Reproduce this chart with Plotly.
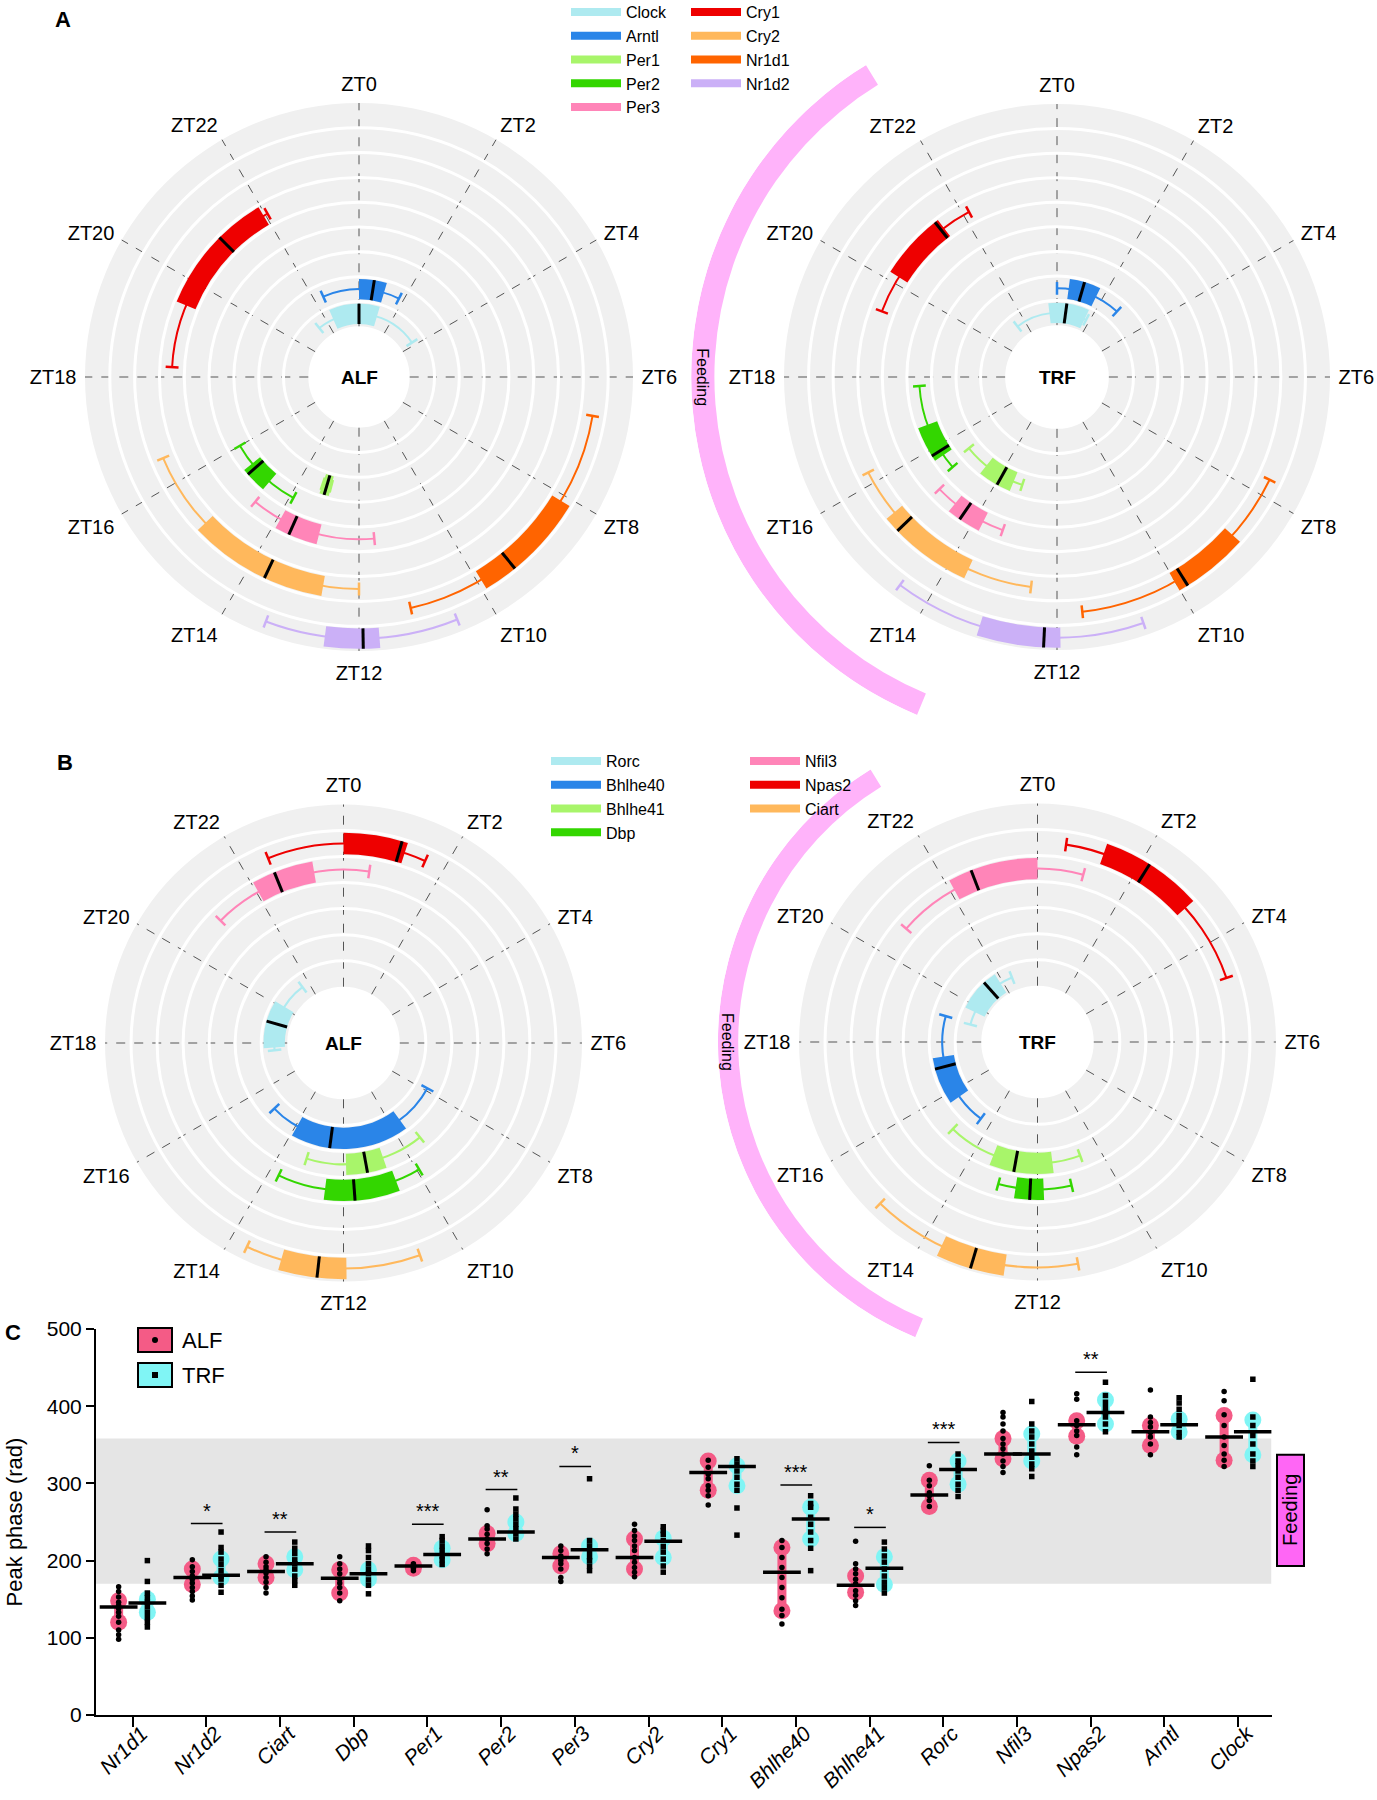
import numpy as np
import plotly.graph_objects as go

W, H = 1377, 1800
FONT = "Liberation Sans, Arial, sans-serif"

# ---------------- Panel A data (ZT hours) ----------------
A_GENES = ["Clock", "Arntl", "Per1", "Per2", "Per3", "Cry1", "Cry2", "Nr1d1", "Nr1d2"]
A_COLORS = ["#aeeaf0", "#2a85e8", "#a8f56a", "#33d600", "#ff85b8", "#ee0000", "#ffb85c", "#ff6400", "#cbb0f7"]
A_ALF_WLO = [21.4, 22.4, 12.95, 13.9, 11.64, 18.2, 12.0, 6.63, 10.53]
A_ALF_BLO = [22.4, 0.0, 12.95, 14.7, 12.95, 19.5, 12.65, 8.1, 11.7]
A_ALF_MED = [0.0, 0.6, 13.1, 15.25, 13.6, 21.0, 13.68, 9.39, 11.94]
A_ALF_BHI = [1.1, 1.1, 13.25, 15.4, 13.93, 21.96, 15.1, 9.93, 12.5]
A_ALF_WHI = [3.8, 1.8, 13.25, 16.0, 14.65, 22.05, 16.5, 11.16, 13.39]

A_TRF_WLO = [21.47, 0.0, 13.19, 15.28, 13.3, 19.37, 12.47, 7.72, 10.71]
A_TRF_BLO = [23.55, 0.5, 13.5, 15.7, 13.8, 20.15, 13.65, 8.8, 11.95]
A_TRF_MED = [0.51, 1.08, 13.94, 15.85, 14.29, 21.45, 15.07, 9.86, 12.19]
A_TRF_BHI = [1.7, 1.73, 14.57, 16.65, 14.59, 21.52, 15.35, 10.01, 13.15]
A_TRF_WHI = [1.8, 2.83, 15.4, 17.75, 15.09, 22.13, 16.21, 11.59, 14.47]

# ---------------- Panel B data (ZT hours) ----------------
B_GENES = ["Rorc", "Bhlhe40", "Bhlhe41", "Dbp", "Nfil3", "Npas2", "Ciart"]
B_COLORS = ["#aeeaf0", "#2a85e8", "#a8f56a", "#33d600", "#ff85b8", "#ee0000", "#ffb85c"]
B_ALF_WLO = [17.6, 7.89, 9.4, 9.94, 20.99, 22.52, 10.68]
B_ALF_BLO = [17.75, 9.59, 10.73, 10.61, 22.04, 0.0, 11.95]
B_ALF_MED = [19.06, 12.5, 11.3, 11.72, 22.53, 1.08, 12.43]
B_ALF_BHI = [20.1, 13.94, 11.92, 12.48, 23.35, 1.19, 13.07]
B_ALF_WHI = [21.58, 15.1, 13.18, 13.74, 0.57, 1.61, 13.69]

B_TRF_WLO = [18.97, 14.43, 10.63, 11.11, 20.72, 0.55, 11.31]
B_TRF_BLO = [19.7, 15.67, 11.53, 11.84, 22.09, 1.29, 12.55]
B_TRF_MED = [21.2, 17.01, 12.69, 12.19, 22.59, 2.15, 13.1]
B_TRF_BHI = [21.85, 17.41, 13.42, 12.57, 0.0, 3.19, 13.68]
B_TRF_WHI = [22.56, 19.05, 14.95, 13.03, 1.02, 4.75, 14.95]

FEED_ZT = [13.5, 21.9]
ZT_TICKS = list(range(0, 24, 2))
ZT_LABELS = ["ZT%d" % z for z in ZT_TICKS]

# ---------------- Panel C data ----------------
C_GENES = ["Nr1d1", "Nr1d2", "Ciart", "Dbp", "Per1", "Per2", "Per3", "Cry2", "Cry1",
           "Bhlhe40", "Bhlhe41", "Rorc", "Nfil3", "Npas2", "Arntl", "Clock"]
ALF_PTS = [
    [166, 160, 153, 146, 142, 138, 133, 128, 120, 110, 104, 98],
    [201, 192, 186, 180, 176, 171, 165, 160, 154, 149],
    [205, 198, 192, 188, 184, 178, 172, 165, 158],
    [205, 196, 189, 183, 176, 171, 165, 158, 148],
    [196, 194, 192, 190, 187],
    [266, 245, 241, 234, 228, 222, 215, 209],
    [219, 213, 206, 200, 196, 189, 178, 173],
    [247, 239, 232, 226, 219, 213, 204, 198, 191, 185, 179],
    [330, 321, 312, 306, 297, 291, 284, 272],
    [226, 217, 204, 191, 178, 165, 152, 137, 129, 118],
    [225, 196, 189, 183, 176, 170, 161, 155, 148, 142],
    [323, 304, 297, 288, 284, 278, 270],
    [392, 386, 377, 368, 358, 351, 345, 338, 329, 322, 314],
    [416, 409, 381, 375, 368, 362, 347, 337],
    [421, 386, 379, 373, 366, 360, 351, 337],
    [419, 407, 389, 375, 360, 349, 338, 330, 322],
]
TRF_PTS = [
    [200, 173, 158, 152, 146, 140, 133, 126, 120, 114],
    [237, 217, 211, 202, 195, 187, 180, 176, 168, 159],
    [224, 216, 209, 201, 196, 189, 180, 174, 168],
    [219, 213, 204, 196, 189, 183, 175, 168, 157],
    [231, 226, 219, 213, 206, 201, 195],
    [281, 267, 260, 254, 247, 241, 235, 228],
    [306, 226, 219, 212, 205, 200, 193, 187],
    [244, 239, 234, 226, 218, 211, 202, 193, 185],
    [332, 325, 316, 308, 299, 291, 268, 233],
    [284, 274, 269, 256, 247, 237, 226, 216, 187],
    [224, 215, 206, 198, 189, 180, 172, 165, 158],
    [338, 329, 323, 316, 308, 299, 291, 283],
    [406, 377, 368, 360, 351, 342, 334, 325, 319, 309],
    [431, 414, 405, 398, 392, 386, 377, 367],
    [411, 404, 396, 388, 381, 375, 366, 360],
    [435, 386, 375, 362, 351, 338, 329, 322],
]
ALF_LO = [120, 169, 178, 158, 190, 222, 193, 189, 291, 135, 159, 270, 332, 361, 349, 330]
ALF_HI = [148, 189, 196, 188, 194, 235, 209, 228, 329, 217, 180, 304, 358, 381, 375, 388]
ALF_MEAN = [140, 178, 186, 177, 193, 228, 204, 204, 314, 185, 168, 285, 338, 376, 367, 360]
TRF_LO = [133, 178, 188, 176, 201, 235, 205, 204, 297, 228, 169, 299, 329, 377, 367, 337]
TRF_HI = [150, 202, 205, 188, 216, 250, 219, 229, 323, 269, 205, 329, 364, 408, 383, 382]
TRF_MEAN = [145, 181, 196, 183, 208, 237, 214, 225, 322, 254, 190, 318, 338, 392, 376, 367]
SIG_GENES = ["Nr1d2", "Ciart", "Per1", "Per2", "Per3", "Bhlhe40", "Bhlhe41", "Rorc", "Npas2"]
SIG_LEVEL = [248, 237, 247, 292, 322, 298, 243, 353, 444]
SIG_STARS = ["*", "**", "***", "**", "*", "***", "*", "***", "**"]
FEED_BAND = [170, 358]
FEED_BOX = [193, 337]
Y_TICKS = [0, 100, 200, 300, 400, 500]

ALF_COLOR = "#f45b86"
TRF_COLOR = "#80f5f5"

fig = go.Figure()


def px_x(x):
    return x / W


def px_y(y):
    return 1 - y / H


def dom(cx, cy, R):
    return dict(x=[px_x(cx - R), px_x(cx + R)], y=[px_y(cy + R), px_y(cy - R)])


def unwrap(lo, hi):
    return (lo, hi if hi >= lo else hi + 24)


def add_polar(subplot, genes, colors, wlo, blo, med, bhi, whi, legends=None):
    # whisker arcs (thin annular bars)
    th, wd, base, rr = [], [], [], []
    for k in range(len(genes)):
        a, b = unwrap(wlo[k], whi[k])
        th.append(((a + b) / 2 % 24) * 15)
        wd.append((b - a) * 15)
        base.append(k + 0.46)
        rr.append(0.08)
    fig.add_trace(go.Barpolar(subplot=subplot, r=rr, base=base, theta=th, width=wd,
                              marker=dict(color=colors, line=dict(width=0)),
                              showlegend=False, hoverinfo="skip"))
    # boxes
    th, wd, base, rr = [], [], [], []
    for k in range(len(genes)):
        a, b = unwrap(blo[k], bhi[k])
        th.append(((a + b) / 2 % 24) * 15)
        wd.append(max((b - a) * 15, 0.8))
        base.append(k + 0.09)
        rr.append(0.82)
    fig.add_trace(go.Barpolar(subplot=subplot, r=rr, base=base, theta=th, width=wd,
                              marker=dict(color=colors, line=dict(width=0)),
                              showlegend=False, hoverinfo="skip"))
    # whisker caps
    for k in range(len(genes)):
        r0, r1 = k + 0.24, k + 0.76
        fig.add_trace(go.Scatterpolar(subplot=subplot,
                                      r=[r0, r1, None, r0, r1],
                                      theta=[wlo[k] * 15, wlo[k] * 15, None, whi[k] * 15, whi[k] * 15],
                                      mode="lines", line=dict(color=colors[k], width=2.5),
                                      showlegend=False, hoverinfo="skip", connectgaps=False))
    # medians
    rm, tm = [], []
    for k in range(len(genes)):
        rm += [k + 0.09, k + 0.91, None]
        tm += [med[k] * 15, med[k] * 15, None]
    fig.add_trace(go.Scatterpolar(subplot=subplot, r=rm, theta=tm, mode="lines",
                                  line=dict(color="black", width=3), showlegend=False,
                                  hoverinfo="skip", connectgaps=False))
    if legends:
        for k, g in enumerate(genes):
            fig.add_trace(go.Scatterpolar(subplot=subplot, r=[None], theta=[None], mode="lines",
                                          line=dict(color=colors[k], width=8), name=g,
                                          legend=legends[k], showlegend=True))


A_LEG = ["legend"] * 5 + ["legend2"] * 4
B_LEG = ["legend3"] * 4 + ["legend4"] * 3

add_polar("polar", A_GENES, A_COLORS, A_ALF_WLO, A_ALF_BLO, A_ALF_MED, A_ALF_BHI, A_ALF_WHI, A_LEG)
add_polar("polar2", A_GENES, A_COLORS, A_TRF_WLO, A_TRF_BLO, A_TRF_MED, A_TRF_BHI, A_TRF_WHI)
add_polar("polar3", B_GENES, B_COLORS, B_ALF_WLO, B_ALF_BLO, B_ALF_MED, B_ALF_BHI, B_ALF_WHI, B_LEG)
add_polar("polar4", B_GENES, B_COLORS, B_TRF_WLO, B_TRF_BLO, B_TRF_MED, B_TRF_BHI, B_TRF_WHI)

# feeding arcs
for sp in ["polar5", "polar6"]:
    a, b = FEED_ZT
    fig.add_trace(go.Barpolar(subplot=sp, r=[0.085], base=[1.255], theta=[(a + b) / 2 * 15],
                              width=[(b - a) * 15], marker=dict(color="#ffb3fa", line=dict(width=0)),
                              showlegend=False, hoverinfo="skip"))

# polar geometry (pixels)
PA1 = (359, 377, 274, 0.185, 9)
PA2 = (1057, 377, 273, 0.19, 9)
PB1 = (343.5, 1043, 238.5, 0.236, 7)
PB2 = (1037.5, 1042, 238.5, 0.236, 7)


def polar_layout(p):
    cx, cy, R, hole, n = p
    return dict(
        domain=dom(cx, cy, R), hole=hole, bgcolor="#f0f0f0",
        radialaxis=dict(range=[0, n], tickvals=list(range(1, n)), showticklabels=False, ticks="",
                        showline=False, gridcolor="white", gridwidth=3.2, layer="below traces"),
        angularaxis=dict(rotation=90, direction="clockwise", thetaunit="degrees", tickmode="array",
                         tickvals=[z * 15 for z in ZT_TICKS], ticktext=ZT_LABELS, showline=False,
                         gridcolor="#555555", griddash="dash", gridwidth=1.2, ticks="outside",
                         ticklen=4, tickcolor="rgba(0,0,0,0)",
                         tickfont=dict(size=20, color="black", family=FONT), layer="above traces"),
    )


def feed_layout(p):
    cx, cy, R, hole, n = p
    Ro = 1.34 * R
    return dict(
        domain=dict(x=[px_x(cx - Ro), px_x(cx)], y=[px_y(cy + Ro), px_y(cy - Ro)]),
        sector=[90, 270], hole=0, bgcolor="rgba(0,0,0,0)",
        radialaxis=dict(range=[0, 1.34], visible=False),
        angularaxis=dict(rotation=90, direction="clockwise", thetaunit="degrees", visible=False),
    )


def ann(x, y, text, size, xref="paper", yref="paper", **kw):
    d = dict(x=x, y=y, xref=xref, yref=yref, text=text, showarrow=False,
             xanchor=kw.pop("xanchor", "center"), yanchor=kw.pop("yanchor", "middle"),
             font=dict(size=size, color="black", family=FONT))
    d.update(kw)
    return d


annotations = []
for p, lab in [(PA1, "ALF"), (PA2, "TRF"), (PB1, "ALF"), (PB2, "TRF")]:
    annotations.append(ann(px_x(p[0]), px_y(p[1]), "<b>%s</b>" % lab, 19))
for p in [PA2, PB2]:
    annotations.append(ann(px_x(p[0] - 1.2975 * p[2]), px_y(p[1]), "Feeding", 16, textangle=90))
for lab, (x, y) in [("A", (63, 20)), ("B", (65, 762)), ("C", (13, 1332))]:
    annotations.append(ann(px_x(x), px_y(y), "<b>%s</b>" % lab, 22))

# ---------------- Panel C ----------------
OFF_A, OFF_T = -0.19, 0.2
for pts, lo, hi, mean, off, col, sym in [
    (ALF_PTS, ALF_LO, ALF_HI, ALF_MEAN, OFF_A, ALF_COLOR, "circle"),
    (TRF_PTS, TRF_LO, TRF_HI, TRF_MEAN, OFF_T, TRF_COLOR, "square"),
]:
    bx, by = [], []
    for i in range(len(C_GENES)):
        bx += [i + off, i + off, None]
        by += [lo[i], hi[i], None]
    fig.add_trace(go.Scatter(x=bx, y=by, mode="lines+markers", xaxis="x", yaxis="y",
                             line=dict(color=col, width=9), marker=dict(color=col, size=17),
                             showlegend=False, hoverinfo="skip", connectgaps=False))
    mx = [i + off for i in range(len(C_GENES))]
    fig.add_trace(go.Scatter(x=mx, y=mean, mode="markers", xaxis="x", yaxis="y",
                             marker=dict(symbol="line-ew", size=27, line=dict(color="black", width=3.5)),
                             showlegend=False, hoverinfo="skip"))
    px_, py_ = [], []
    for i in range(len(C_GENES)):
        px_ += [i + off] * len(pts[i])
        py_ += pts[i]
    fig.add_trace(go.Scatter(x=px_, y=py_, mode="markers", xaxis="x", yaxis="y",
                             marker=dict(symbol=sym, size=5.5, color="black"),
                             showlegend=False, hoverinfo="skip"))

sx, sy = [], []
for g, lv, st in zip(SIG_GENES, SIG_LEVEL, SIG_STARS):
    i = C_GENES.index(g)
    sx += [i + OFF_A - 0.02, i + OFF_T + 0.02, None]
    sy += [lv, lv, None]
    annotations.append(ann(i + (OFF_A + OFF_T) / 2, lv, st, 20, xref="x", yref="y", yanchor="bottom"))
fig.add_trace(go.Scatter(x=sx, y=sy, mode="lines", xaxis="x", yaxis="y", line=dict(color="black", width=1.5),
                         showlegend=False, hoverinfo="skip", connectgaps=False))

shapes = [
    dict(type="rect", xref="x", yref="y", x0=-0.497, x1=15.453, y0=FEED_BAND[0], y1=FEED_BAND[1],
         fillcolor="#e5e5e5", line=dict(width=0), layer="below"),
    dict(type="rect", xref="paper", yref="y", x0=px_x(1277), x1=px_x(1304), y0=FEED_BOX[0], y1=FEED_BOX[1],
         fillcolor="#ff66f5", line=dict(color="black", width=2)),
    # legend boxes for panel C
    dict(type="rect", xref="paper", yref="paper", x0=px_x(138), x1=px_x(172), y0=px_y(1352), y1=px_y(1328),
         fillcolor=ALF_COLOR, line=dict(color="black", width=2)),
    dict(type="circle", xref="paper", yref="paper", x0=px_x(152), x1=px_x(158), y0=px_y(1343), y1=px_y(1337),
         fillcolor="black", line=dict(width=0)),
    dict(type="rect", xref="paper", yref="paper", x0=px_x(138), x1=px_x(172), y0=px_y(1387), y1=px_y(1363),
         fillcolor=TRF_COLOR, line=dict(color="black", width=2)),
    dict(type="rect", xref="paper", yref="paper", x0=px_x(152), x1=px_x(158), y0=px_y(1378), y1=px_y(1372),
         fillcolor="black", line=dict(width=0)),
]
annotations.append(ann(px_x(1290.5), (FEED_BOX[0] + FEED_BOX[1]) / 2, "Feeding", 20, yref="y", textangle=-90))
annotations.append(ann(px_x(180), px_y(1340), "ALF", 22, xanchor="left"))
annotations.append(ann(px_x(180), px_y(1375), "TRF", 22, xanchor="left"))

leg_common = dict(bgcolor="rgba(0,0,0,0)", font=dict(size=16, color="black", family=FONT),
                  itemwidth=50, xanchor="left", yanchor="top", tracegroupgap=0, orientation="v")

fig.update_layout(
    width=W, height=H, margin=dict(l=0, r=0, t=0, b=0, autoexpand=False),
    paper_bgcolor="white", plot_bgcolor="rgba(0,0,0,0)",
    font=dict(family=FONT, color="black"),
    polar=polar_layout(PA1), polar2=polar_layout(PA2),
    polar3=polar_layout(PB1), polar4=polar_layout(PB2),
    polar5=feed_layout(PA2), polar6=feed_layout(PB2),
    legend=dict(x=px_x(566), y=px_y(-5), **leg_common),
    legend2=dict(x=px_x(686), y=px_y(-5), **leg_common),
    legend3=dict(x=px_x(546), y=px_y(744), **leg_common),
    legend4=dict(x=px_x(745), y=px_y(744), **leg_common),
    xaxis=dict(domain=[px_x(96), px_x(1271.5)], range=[-0.497, 15.453], tickmode="array",
               tickvals=list(range(len(C_GENES))), ticktext=C_GENES, tickangle=-45,
               tickfont=dict(size=21, style="italic", family=FONT, color="black"),
               ticklabelstandoff=-14, ticklabelshift=9,
               showline=True, linecolor="black", linewidth=2, ticks="outside", ticklen=10, tickwidth=2,
               tickcolor="black", showgrid=False, zeroline=False, anchor="y", automargin=False),
    yaxis=dict(domain=[px_y(1715), px_y(1329)], range=[0, 500], tickmode="array", tickvals=Y_TICKS,
               tickfont=dict(size=21, family=FONT, color="black"),
               showline=True, linecolor="black", linewidth=2, ticks="outside", ticklen=8, tickwidth=2,
               tickcolor="black", showgrid=False, zeroline=False, anchor="x", automargin=False,
               title=dict(text="Peak phase (rad)", font=dict(size=22, family=FONT, color="black"), standoff=18)),
    shapes=shapes, annotations=annotations,
)

fig.write_html("out.html", config={"displayModeBar": False},
               post_script="document.body.style.margin='0px';document.body.style.padding='0px';")
